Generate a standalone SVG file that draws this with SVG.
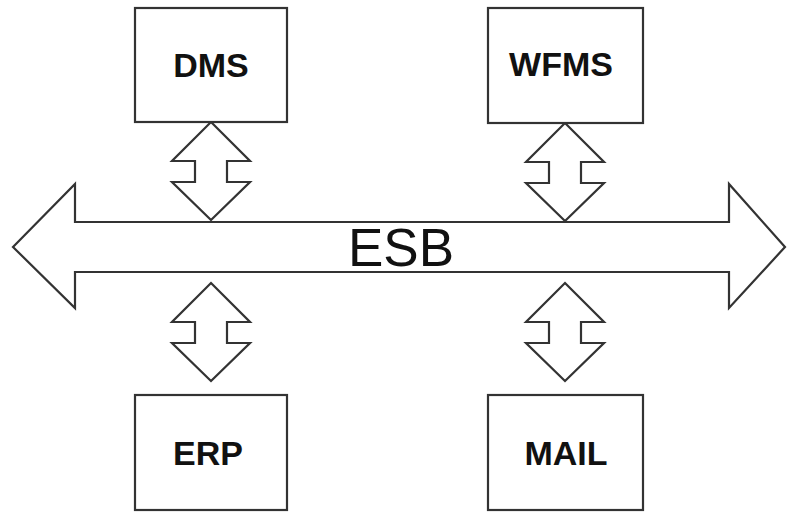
<svg xmlns="http://www.w3.org/2000/svg" width="787" height="512" viewBox="0 0 787 512">
  <style>
    .shape { fill: #ffffff; stroke: #333333; stroke-width: 2.2; stroke-linejoin: miter; }
    .label { font-family: "Liberation Sans", Arial, sans-serif; font-weight: bold; font-size: 34px; fill: #111111; text-anchor: middle; }
    .bus { font-family: "Liberation Sans", Arial, sans-serif; font-size: 53px; fill: #111111; text-anchor: middle; }
  </style>
  <defs>
    <!-- vertical double-headed block arrow, centred on x=0, from y=0 to y=98 -->
    <path id="vlink" d="M0,0 L39,39 L16,39 L16,60 L39,60 L0,98 L-39,60 L-16,60 L-16,39 L-39,39 Z"/>
  </defs>
  <rect width="787" height="512" fill="#ffffff"/>

  <g id="esb">
    <path class="shape" d="M13,247 L75,184 L75,222 L729,222 L729,184 L785,247 L729,308 L729,272 L75,272 L75,308 Z"/>
    <text class="bus" x="401" y="266">ESB</text>
  </g>

  <g id="connectors">
    <use href="#vlink" class="shape" x="211" y="122"/>
    <use href="#vlink" class="shape" x="565" y="123"/>
    <use href="#vlink" class="shape" x="211" y="283"/>
    <use href="#vlink" class="shape" x="565" y="283"/>
  </g>

  <g id="dms">
    <rect class="shape" x="135" y="8" width="152" height="114"/>
    <text class="label" x="211" y="77">DMS</text>
  </g>
  <g id="wfms">
    <rect class="shape" x="488" y="8" width="155" height="115"/>
    <text class="label" x="561" y="76">WFMS</text>
  </g>
  <g id="erp">
    <rect class="shape" x="135" y="395" width="152" height="115"/>
    <text class="label" x="208" y="465">ERP</text>
  </g>
  <g id="mail">
    <rect class="shape" x="488" y="395" width="155" height="115"/>
    <text class="label" x="566" y="465">MAIL</text>
  </g>
</svg>
